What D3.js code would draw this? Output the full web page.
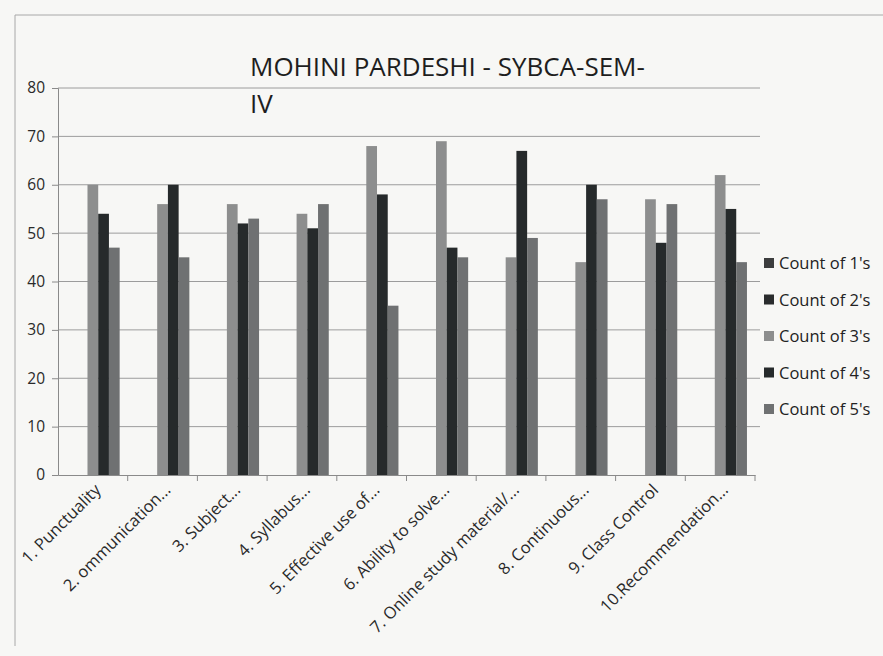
<!DOCTYPE html>
<html>
<head>
<meta charset="utf-8">
<script src="https://cdn.jsdelivr.net/npm/d3@7"></script>
<style>
  body { margin: 0; background: #f7f7f5; }
  text { font-family: "Open Sans", "Noto Sans", sans-serif; }
</style>
</head>
<body>
<div id="c_plot"></div>
<script>
var categories = ["1. Punctuality", "2. ommunication...", "3. Subject...", "4. Syllabus...",
  "5. Effective use of...", "6. Ability to solve...", "7. Online study material/...",
  "8. Continuous...", "9. Class Control", "10.Recommendation..."];
var seriesNames = ["Count of 1's", "Count of 2's", "Count of 3's", "Count of 4's", "Count of 5's"];
var count1 = [0, 0, 0, 0, 0, 0, 0, 0, 0, 0];
var count2 = [0, 0, 0, 0, 0, 0, 0, 0, 0, 0];
var count3 = [60, 56, 56, 54, 68, 69, 45, 44, 57, 62];
var count4 = [54, 60, 52, 51, 58, 47, 67, 60, 48, 55];
var count5 = [47, 45, 53, 56, 35, 45, 49, 57, 56, 44];
var yTicks = [0, 10, 20, 30, 40, 50, 60, 70, 80];
var titleLines = ["MOHINI PARDESHI - SYBCA-SEM-", "IV"];

var seriesValues = [count1, count2, count3, count4, count5];
var colors = ["#3c3d3e", "#2a2c2d", "#8d8e8e", "#262a2b", "#6f7172"];

var W = 883, H = 656;
var svg = d3.select("#c_plot").append("svg")
  .attr("width", W).attr("height", H);

// chart frame (photo edge)
svg.append("path")
  .attr("d", "M15," + (H - 10) + "V15H" + W)
  .attr("fill", "none")
  .attr("stroke", "#a8a8a8")
  .attr("stroke-width", 1);

var x0 = d3.scaleBand().domain(categories).range([58, 755]).padding(0);
var x1 = d3.scaleBand().domain(seriesNames).range([0, x0.bandwidth()])
  .paddingInner(0).paddingOuter(0.75);
var y = d3.scaleLinear().domain([0, 80]).range([475, 88]);

// gridlines
svg.append("g").selectAll("line")
  .data(yTicks.slice(1))
  .enter().append("line")
  .attr("x1", 58).attr("x2", 760)
  .attr("y1", d => y(d)).attr("y2", d => y(d))
  .attr("stroke", "#9c9c9c")
  .attr("stroke-width", 1);

// bars
var rows = [];
for (var s = 0; s < seriesNames.length; s++)
  for (var i = 0; i < categories.length; i++)
    rows.push({ cat: categories[i], name: seriesNames[s], v: seriesValues[s][i], c: colors[s] });

svg.append("g").selectAll("rect")
  .data(rows.filter(d => d.v > 0))
  .enter().append("rect")
  .attr("x", d => x0(d.cat) + x1(d.name))
  .attr("width", x1.bandwidth())
  .attr("y", d => y(d.v))
  .attr("height", d => y(0) - y(d.v))
  .attr("fill", d => d.c);

// y axis
var yAxis = svg.append("g")
  .attr("transform", "translate(58,0)")
  .call(d3.axisLeft(y).tickValues(yTicks).tickSize(6).tickPadding(7));
yAxis.select(".domain").attr("stroke", "#8a8a8a");
yAxis.selectAll(".tick line").attr("stroke", "#8a8a8a");
yAxis.selectAll("text").attr("font-size", 15.5).attr("fill", "#2a2a2a")
  .style("font-family", "'Open Sans', sans-serif");

// x axis, ticks between categories
var xAxis = svg.append("g")
  .attr("transform", "translate(0," + y(0) + ")")
  .call(d3.axisBottom(x0).tickSize(0).tickFormat(""));
xAxis.select(".domain").attr("stroke", "#8a8a8a");
xAxis.selectAll(".sep")
  .data(categories)
  .enter().append("line")
  .attr("x1", d => x0(d) + x0.bandwidth()).attr("x2", d => x0(d) + x0.bandwidth())
  .attr("y1", 0).attr("y2", 6)
  .attr("stroke", "#8a8a8a");

svg.append("g").selectAll("text")
  .data(categories)
  .enter().append("text")
  .attr("transform", d => "translate(" + (x0(d) + x0.bandwidth() / 2 + 9) + "," + (y(0) + 16) + ") rotate(-45)")
  .attr("text-anchor", "end")
  .attr("font-size", 16.5)
  .attr("fill", "#2a2a2a")
  .text(d => d);

// title
svg.append("g").selectAll("text")
  .data(titleLines)
  .enter().append("text")
  .attr("x", 250)
  .attr("y", (d, i) => 76 + i * 37)
  .attr("font-size", 26)
  .attr("fill", "#1e1e1e")
  .text(d => d);

// legend
var legend = svg.append("g").selectAll("g")
  .data(seriesNames)
  .enter().append("g")
  .attr("transform", (d, i) => "translate(764," + (263 + i * 36.5) + ")");
legend.append("rect")
  .attr("x", 0).attr("y", -5)
  .attr("width", 10).attr("height", 10)
  .attr("fill", (d, i) => colors[i]);
legend.append("text")
  .attr("x", 15).attr("y", 6)
  .attr("font-size", 16.5)
  .attr("fill", "#222")
  .text(d => d);
</script>
</body>
</html>
